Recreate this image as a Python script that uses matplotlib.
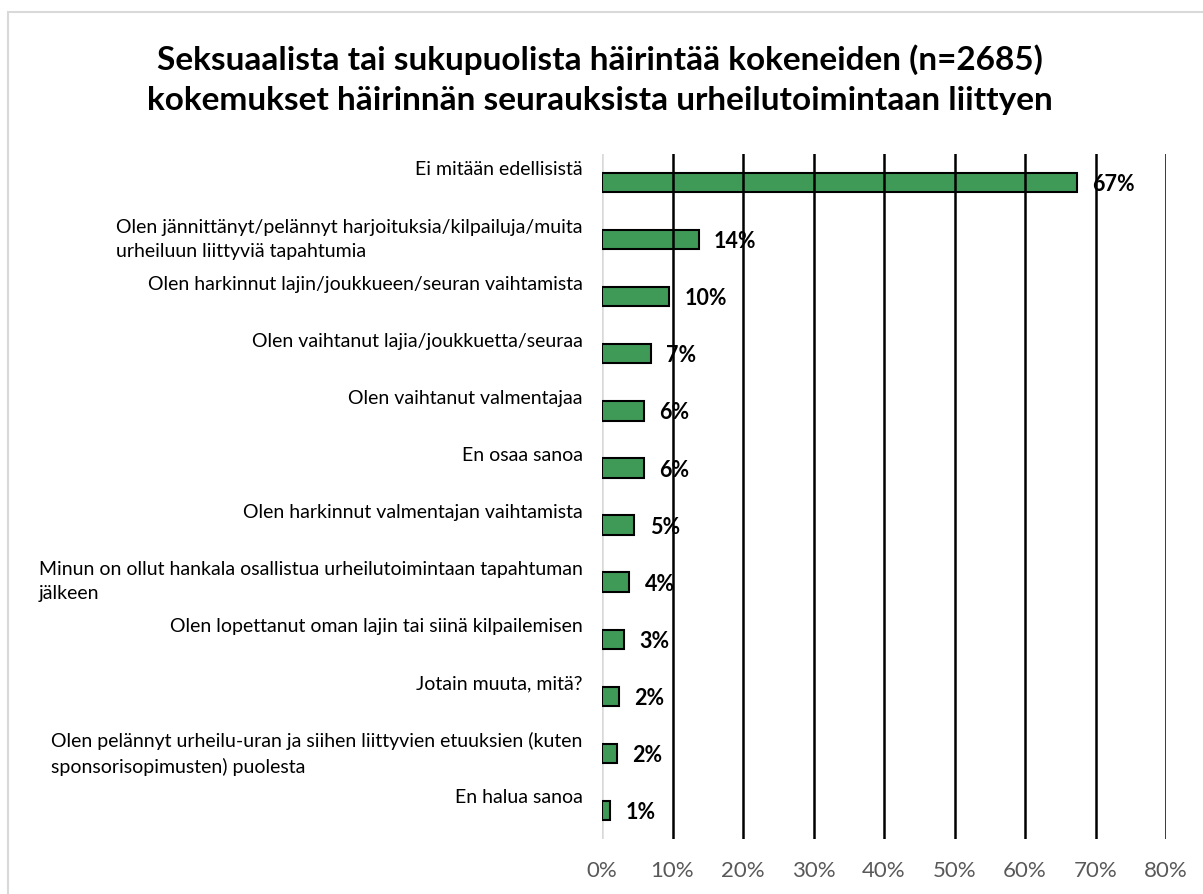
import matplotlib
matplotlib.use("Agg")
import matplotlib.pyplot as plt
from matplotlib.patches import Rectangle
from matplotlib.ticker import PercentFormatter

plt.rcParams["font.family"] = ["Lato", "DejaVu Sans"]

TITLE = ("Seksuaalista tai sukupuolista häirintää kokeneiden (n=2685)\n"
         "kokemukset häirinnän seurauksista urheilutoimintaan liittyen")

categories = [
    "Ei mitään edellisistä",
    "Olen jännittänyt/pelännyt harjoituksia/kilpailuja/muita\nurheiluun liittyviä tapahtumia",
    "Olen harkinnut lajin/joukkueen/seuran vaihtamista",
    "Olen vaihtanut lajia/joukkuetta/seuraa",
    "Olen vaihtanut valmentajaa",
    "En osaa sanoa",
    "Olen harkinnut valmentajan vaihtamista",
    "Minun on ollut hankala osallistua urheilutoimintaan tapahtuman\njälkeen",
    "Olen lopettanut oman lajin tai siinä kilpailemisen",
    "Jotain muuta, mitä?",
    "Olen pelännyt urheilu-uran ja siihen liittyvien etuuksien (kuten\nsponsorisopimusten) puolesta",
    "En halua sanoa",
]
values = [67.4, 13.7, 9.5, 6.9, 6.0, 6.0, 4.6, 3.9, 3.1, 2.4, 2.1, 1.2]
value_labels = ["67%", "14%", "10%", "7%", "6%", "6%", "5%", "4%", "3%", "2%", "2%", "1%"]
xticks = [0, 10, 20, 30, 40, 50, 60, 70, 80]

BAR_COLOR = "#409A57"

fig = plt.figure(figsize=(12.03, 8.94), dpi=100)
W, H = 1203, 894

# light chart-area border
fig.patches.append(Rectangle((8 / W, -0.1), 1.0, 1.1 - 12 / H, transform=fig.transFigure,
                             fill=False, edgecolor="#d9d9d9", linewidth=1.5))

ax = fig.add_axes([602 / W, 1 - 839 / H, (1166 - 602) / W, (839 - 154) / H])
ypos = list(range(len(categories)))
ax.barh(ypos, values, height=0.34, color=BAR_COLOR, edgecolor="black",
        linewidth=1.5, zorder=1)

ax.set_xlim(0, 80)
ax.set_ylim(len(categories) - 0.5, -0.5)
ax.set_xticks(xticks)
ax.xaxis.set_major_formatter(PercentFormatter(decimals=0))
ax.tick_params(axis="x", length=0, labelsize=16, labelcolor="#595959", pad=16)
ax.set_yticks([])
for s in ax.spines.values():
    s.set_visible(False)

for x in xticks[1:]:
    ax.axvline(x, color="black", linewidth=1.8, zorder=2)
ax.axvline(0, color="#d9d9d9", linewidth=1.8, zorder=0)

for y, v, lab in zip(ypos, values, value_labels):
    ax.annotate(lab, (v, y), xytext=(11, -1.5), textcoords="offset points",
                ha="left", va="center", fontsize=15.5, fontweight="bold", zorder=3)

for y, cat in zip(ypos, categories):
    ax.annotate(cat, (0, y - 0.37), xycoords=("axes fraction", "data"),
                xytext=(-14, 0), textcoords="offset points",
                ha="right", va="top", multialignment="left",
                fontsize=14, linespacing=1.5, annotation_clip=False)

fig.text(600 / W, 1 - 44 / H, TITLE, ha="center", va="top", fontsize=24,
         fontweight="bold", linespacing=1.45)

fig.savefig("out.png", dpi=100, facecolor="white")
